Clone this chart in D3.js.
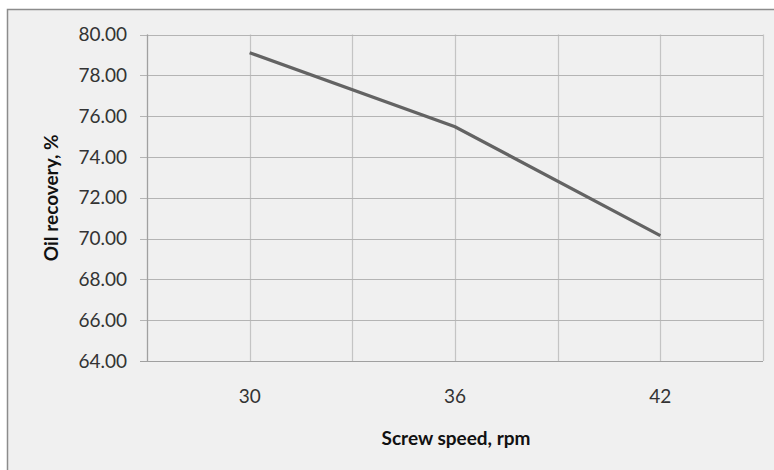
<!DOCTYPE html>
<html>
<head>
<meta charset="utf-8">
<script src="https://cdn.jsdelivr.net/npm/d3@7"></script>
<style>
  body { margin: 0; background: #fff; }
  svg { display: block; }
</style>
</head>
<body>
<div id="chartDiv"></div>
<script>
var width = 774;
var height = 470;

// data
var speeds = ["30", "36", "42"];
var recovery = [79.11, 75.48, 70.14];
var yTicks = [64, 66, 68, 70, 72, 74, 76, 78, 80];

var margin = {left: 147, right: 11, top: 34.5, bottom: 109};
var font = "Lato, 'Open Sans', sans-serif";

var svg = d3.select("#chartDiv")
    .append("svg")
    .attr("width", width)
    .attr("height", height);

// chart frame (runs past the right and bottom edges)
svg.append("rect")
    .attr("x", 7.5).attr("y", 9.5)
    .attr("width", 800).attr("height", 500)
    .attr("fill", "#f0f0f0")
    .attr("stroke", "#8c8c8c")
    .attr("stroke-width", 1.5);

var x = d3.scaleBand()
    .domain(speeds)
    .range([margin.left, width - margin.right]);

var y = d3.scaleLinear()
    .domain([64, 80])
    .range([height - margin.bottom, margin.top]);

var g = svg.append("g");

// vertical gridlines: band edges and band centers
var vLines = [];
speeds.forEach(s => { vLines.push(x(s)); vLines.push(x(s) + x.bandwidth() / 2); });
vLines.push(x.range()[1]);

g.selectAll("line.v")
  .data(vLines)
  .join("line")
    .attr("class", "v")
    .attr("x1", d => Math.round(d) + 0.5).attr("x2", d => Math.round(d) + 0.5)
    .attr("y1", y(80)).attr("y2", y(64))
    .attr("stroke", "#c4c4c4")
    .attr("stroke-width", 1.2);

// horizontal gridlines + ticks
g.selectAll("line.h")
  .data(yTicks)
  .join("line")
    .attr("class", "h")
    .attr("x1", margin.left - 7).attr("x2", x.range()[1])
    .attr("y1", d => Math.round(y(d)) + 0.5).attr("y2", d => Math.round(y(d)) + 0.5)
    .attr("stroke", d => d === 64 ? "#a0a0a0" : "#b4b4b4")
    .attr("stroke-width", 1.2);

// y axis line
g.append("line")
    .attr("x1", margin.left + 0.5).attr("x2", margin.left + 0.5)
    .attr("y1", y(80)).attr("y2", y(64))
    .attr("stroke", "#a0a0a0")
    .attr("stroke-width", 1.2);

// y tick labels
g.selectAll("text.yt")
  .data(yTicks)
  .join("text")
    .attr("class", "yt")
    .attr("x", 127)
    .attr("y", d => y(d))
    .attr("dy", "0.35em")
    .attr("text-anchor", "end")
    .style("font", "19px " + font)
    .attr("fill", "#333")
    .text(d => d3.format(".2f")(d));

// x tick labels
g.selectAll("text.xt")
  .data(speeds)
  .join("text")
    .attr("class", "xt")
    .attr("x", d => x(d) + x.bandwidth() / 2)
    .attr("y", 403)
    .attr("text-anchor", "middle")
    .style("font", "19px " + font)
    .attr("fill", "#333")
    .text(d => d);

// line
var line = d3.line()
    .x((d, i) => x(speeds[i]) + x.bandwidth() / 2)
    .y(d => y(d));

g.append("path")
    .datum(recovery)
    .attr("d", line)
    .attr("fill", "none")
    .attr("stroke", "#636363")
    .attr("stroke-width", 3.2);

// axis titles
svg.append("text")
    .attr("x", 456)
    .attr("y", 445)
    .attr("text-anchor", "middle")
    .style("font", "bold 19px " + font)
    .attr("fill", "#111")
    .text("Screw speed, rpm");

svg.append("text")
    .attr("transform", `translate(58,${(y(64) + y(80)) / 2}) rotate(-90)`)
    .attr("text-anchor", "middle")
    .style("font", "bold 19px " + font)
    .attr("fill", "#111")
    .text("Oil recovery, %");
</script>
</body>
</html>
